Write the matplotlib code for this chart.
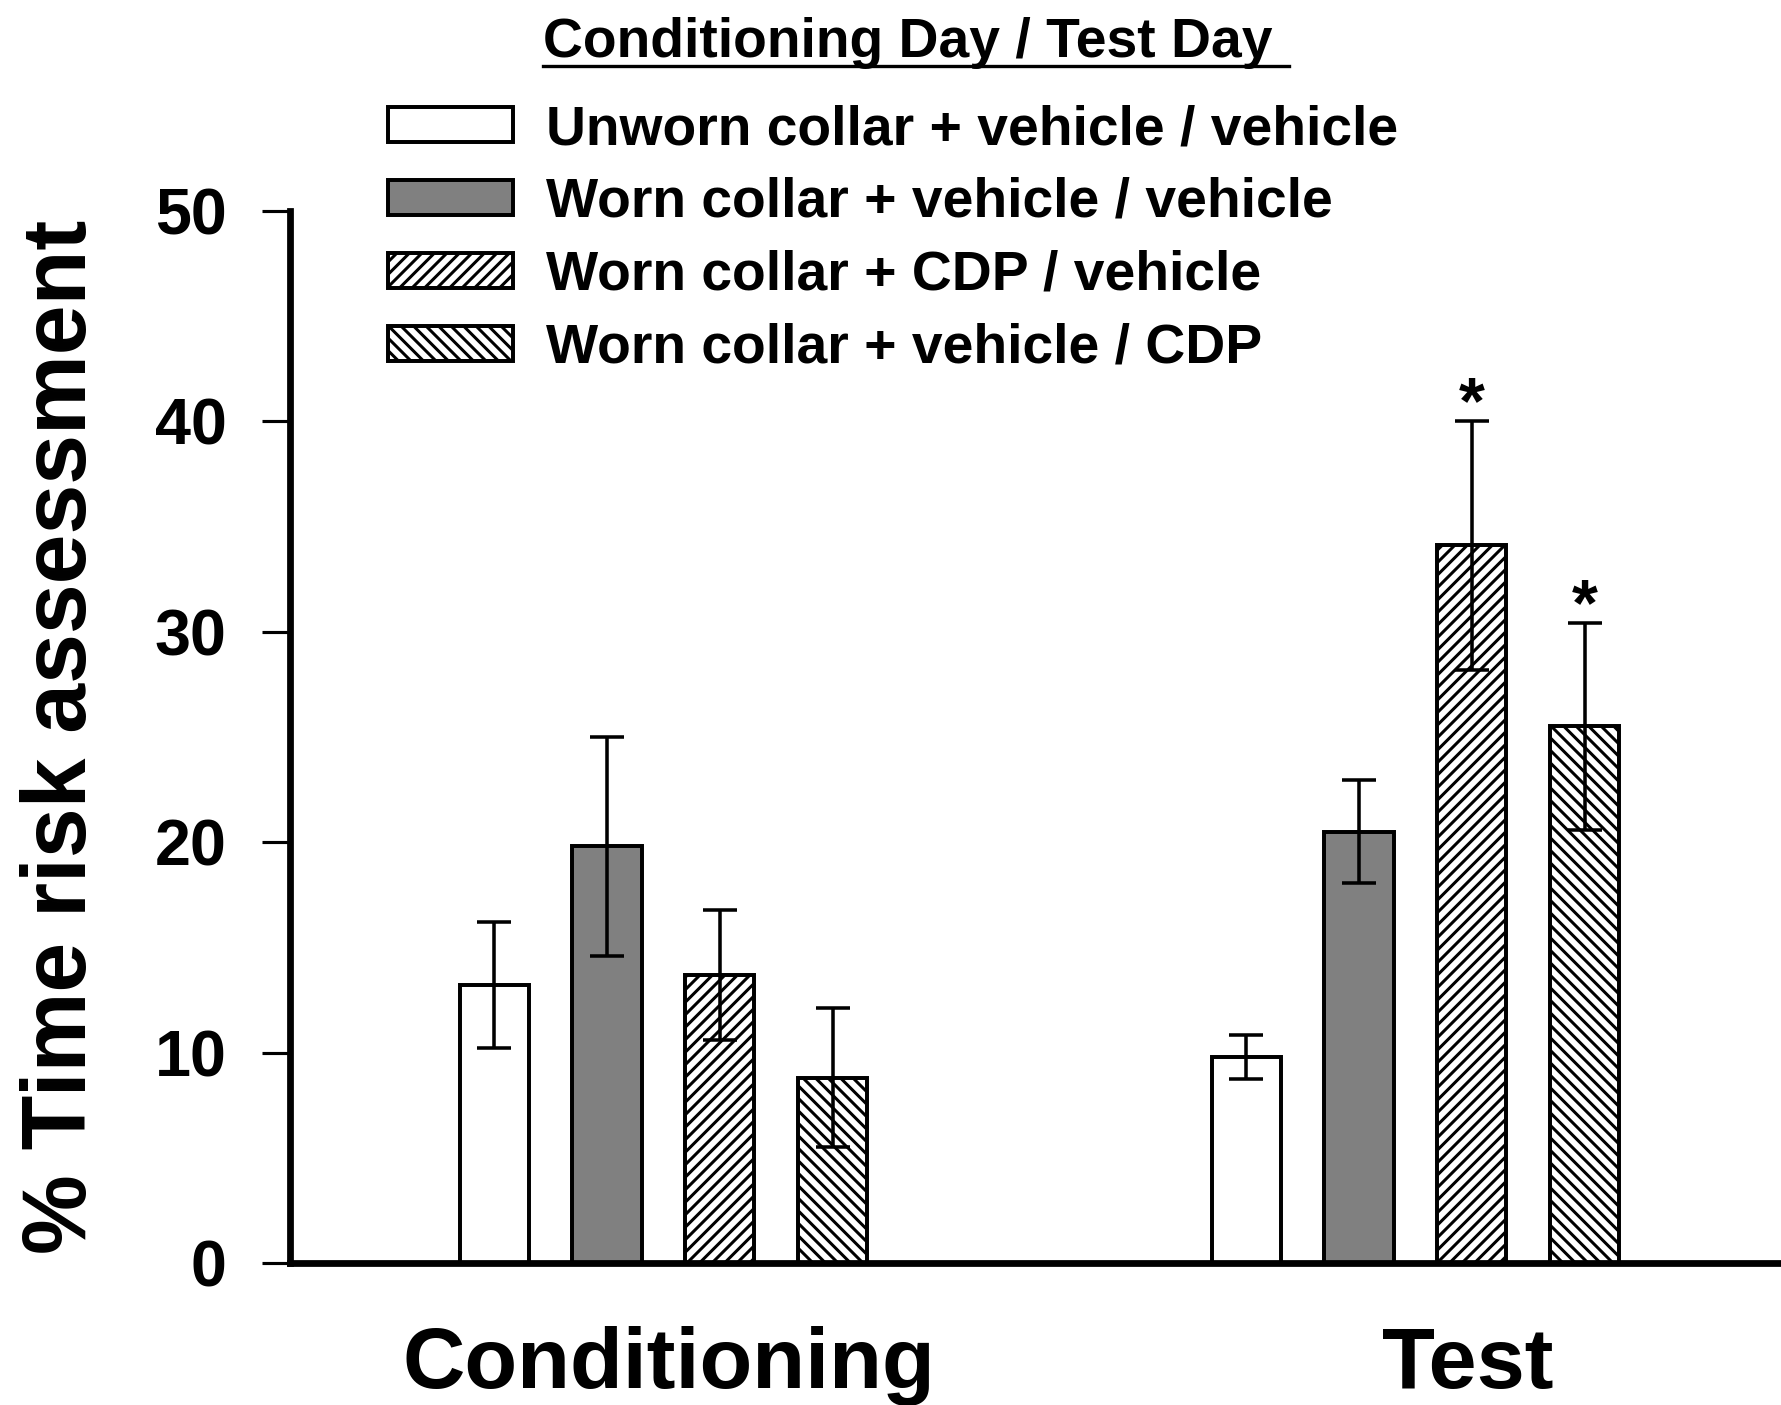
import numpy as np
import matplotlib
matplotlib.use("Agg")
from matplotlib import pyplot as plt
from matplotlib.lines import Line2D

# data
groups = ["Conditioning", "Test"]
labels = ["Unworn collar + vehicle / vehicle",
          "Worn collar + vehicle / vehicle",
          "Worn collar + CDP / vehicle",
          "Worn collar + vehicle / CDP"]
means = [[13.2, 9.8],
         [19.8, 20.5],
         [13.7, 34.1],
         [8.8, 25.5]]
sems = [[3.0, 1.05],
        [5.2, 2.45],
        [3.1, 5.9],
        [3.3, 4.9]]
stars = [[False, False],
         [False, False],
         [False, True],
         [False, True]]

fills = ["white", "#808080", "white", "white"]
hatches = [None, None, "//", "\\\\"]

DPI = 75
plt.rcParams['font.family'] = ['Liberation Sans', 'DejaVu Sans']
plt.rcParams['font.weight'] = 'bold'
plt.rcParams['hatch.linewidth'] = 2.9
plt.rcParams['hatch.color'] = 'black'

fig = plt.figure(figsize=(1781/DPI, 1405/DPI), dpi=DPI)
ax = fig.add_axes([0.163, 0.101, 0.837, 0.749])

x = np.arange(len(groups))
step = 0.150
width = 0.092

containers = []
for i in range(len(labels)):
    pos = x + (i - 1.5)*step
    b = ax.bar(pos, means[i], width, color=fills[i], edgecolor='black',
               linewidth=3.8, hatch=hatches[i], zorder=2)
    containers.append(b)
    ax.errorbar(pos, means[i], yerr=sems[i], fmt='none', ecolor='black',
                elinewidth=3.4, capsize=16, capthick=3.4, zorder=3)
    for j in range(len(groups)):
        if stars[i][j]:
            ax.text(pos[j], means[i][j] + sems[i][j] - 0.1, "*", ha='center',
                    va='baseline', fontsize=64, fontweight='bold')

ax.set_xlim(-0.496, 1.486)
ax.set_ylim(0, 50)
ax.set_yticks([0, 10, 20, 30, 40, 50])
ax.set_xticks([0.008, 1.07])
ax.set_xticklabels(groups, fontsize=83, fontweight='bold')
ax.tick_params(axis='x', length=0, pad=60)
ax.tick_params(axis='y', length=27, width=3, pad=34, labelsize=62)
for t in ax.get_yticklabels():
    t.set_fontweight('bold')

for s in ['top', 'right']:
    ax.spines[s].set_visible(False)
ax.spines['left'].set_linewidth(6.5)
ax.spines['bottom'].set_linewidth(6.5)

ax.set_ylabel("% Time risk assessment", fontsize=86, fontweight='bold')
ax.yaxis.set_label_coords(-0.124, 0.5)

leg = ax.legend(containers, labels, loc='upper left',
                bbox_to_anchor=(388/1781, 1 - 104/1405),
                bbox_transform=fig.transFigure, frameon=False,
                fontsize=53, handlelength=2.27, handleheight=0.6,
                handletextpad=0.6, labelspacing=0.38, borderpad=0,
                borderaxespad=0)

fig.text(543/1781, 1 - 57/1405, "Conditioning Day / Test Day", fontsize=53,
         fontweight='bold', ha='left', va='baseline')
fig.add_artist(Line2D([543/1781, 1289/1781], [1 - 66/1405, 1 - 66/1405],
                      transform=fig.transFigure, color='black', linewidth=3.2))

fig.savefig("out.png", dpi=DPI)
